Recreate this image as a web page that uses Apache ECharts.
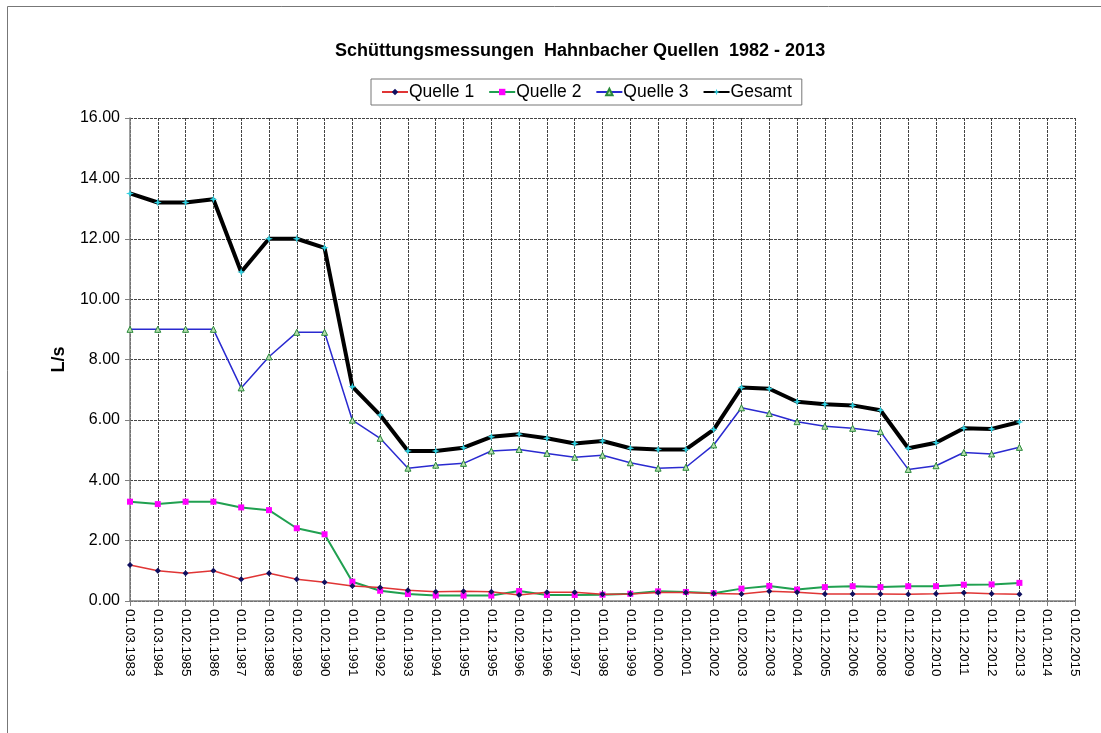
<!DOCTYPE html>
<html>
<head>
<meta charset="utf-8">
<title>Schüttungsmessungen Hahnbacher Quellen</title>
<script src="https://cdn.jsdelivr.net/npm/echarts@6/dist/echarts.min.js"></script>
<style>
  html, body { margin: 0; padding: 0; background: #fff; }
  #chart { width: 1101px; height: 733px; }
</style>
</head>
<body>
<div id="chart"></div>
<script>
const dates = [
  '01.03.1983', '01.03.1984', '01.02.1985', '01.01.1986', '01.01.1987', '01.03.1988',
  '01.02.1989', '01.02.1990', '01.01.1991', '01.01.1992', '01.01.1993', '01.01.1994',
  '01.01.1995', '01.12.1995', '01.02.1996', '01.12.1996', '01.01.1997', '01.01.1998',
  '01.01.1999', '01.01.2000', '01.01.2001', '01.01.2002', '01.02.2003', '01.12.2003',
  '01.12.2004', '01.12.2005', '01.12.2006', '01.12.2008', '01.12.2009', '01.12.2010',
  '01.12.2011', '01.12.2012', '01.12.2013', '01.01.2014', '01.02.2015'
]

const quelle1 = [
  1.19, 1.00, 0.92, 1.00, 0.72, 0.92, 0.72, 0.62, 0.50, 0.45, 0.36, 0.31,
  0.32, 0.31, 0.20, 0.29, 0.29, 0.22, 0.23, 0.28, 0.28, 0.25, 0.23, 0.32,
  0.29, 0.23, 0.23, 0.23, 0.22, 0.24, 0.27, 0.24, 0.22, null, null
]

const quelle2 = [
  3.29, 3.21, 3.29, 3.29, 3.10, 3.01, 2.41, 2.21, 0.64, 0.34, 0.23, 0.18,
  0.18, 0.18, 0.33, 0.20, 0.20, 0.21, 0.24, 0.32, 0.30, 0.26, 0.41, 0.50,
  0.38, 0.46, 0.49, 0.46, 0.49, 0.49, 0.54, 0.55, 0.60, null, null
]

const quelle3 = [
  9.00, 9.00, 9.00, 9.00, 7.06, 8.09, 8.90, 8.90, 5.99, 5.39, 4.40, 4.50,
  4.56, 4.97, 5.02, 4.89, 4.76, 4.83, 4.58, 4.40, 4.43, 5.17, 6.40, 6.21,
  5.94, 5.79, 5.72, 5.61, 4.36, 4.48, 4.92, 4.87, 5.09, null, null
]

const gesamt = [
  13.50, 13.20, 13.20, 13.31, 10.90, 12.00, 12.00, 11.70, 7.10, 6.16, 4.97, 4.97,
  5.08, 5.44, 5.52, 5.39, 5.22, 5.30, 5.06, 5.02, 5.02, 5.68, 7.07, 7.03,
  6.60, 6.52, 6.48, 6.32, 5.06, 5.24, 5.72, 5.70, 5.93, null, null
]

const font = '"Liberation Sans", Arial, sans-serif'
const starPath = 'path://M0,-10L2.5,-2.5L10,0L2.5,2.5L0,10L-2.5,2.5L-10,0L-2.5,-2.5Z'

const chart = echarts.init(document.getElementById('chart'))

const option = {
  backgroundColor: '#fff',
  animation: false,
  graphic: [
    {
      type: 'rect',
      shape: { x: 7.5, y: 6.5, width: 1110, height: 760 },
      style: { fill: 'none', stroke: '#777', lineWidth: 1 },
      silent: true
    }
  ],
  title: {
    text: 'Schüttungsmessungen  Hahnbacher Quellen  1982 - 2013',
    left: 330,
    top: 37,
    textStyle: { fontFamily: font, fontSize: 18, fontWeight: 'bold', color: '#000' }
  },
  legend: {
    top: 79,
    left: 371,
    borderColor: '#777',
    borderWidth: 1,
    padding: [4, 10, 4, 10],
    itemGap: 14,
    itemWidth: 26,
    itemHeight: 8,
    textStyle: { fontFamily: font, fontSize: 17.5, color: '#000', padding: [0, 0, 0, -4] },
    data: ['Quelle 1', 'Quelle 2', 'Quelle 3', 'Gesamt']
  },
  grid: {
    left: 130,
    right: 26,
    top: 118,
    bottom: 132
  },
  xAxis: {
    type: 'category',
    data: dates,
    boundaryGap: false,
    axisLine: { lineStyle: { color: '#808080', width: 1.5 } },
    axisTick: { show: true, length: 5, lineStyle: { color: '#808080' } },
    axisLabel: {
      interval: 0,
      rotate: -90,
      margin: 8,
      fontFamily: font,
      fontSize: 13.5,
      color: '#000'
    },
    splitLine: {
      show: true,
      interval: 0,
      lineStyle: { color: '#444', type: [3, 1], width: 1 }
    }
  },
  yAxis: {
    type: 'value',
    min: 0,
    max: 16,
    interval: 2,
    name: 'L/s',
    nameLocation: 'middle',
    nameGap: 62,
    nameRotate: 90,
    nameTextStyle: { fontFamily: font, fontSize: 18, fontWeight: 'bold', color: '#000' },
    axisLine: { show: true, lineStyle: { color: '#808080', width: 1.5 } },
    axisTick: { show: true, length: 5, inside: false, lineStyle: { color: '#808080' } },
    axisLabel: {
      formatter: v => v.toFixed(2),
      fontFamily: font,
      fontSize: 16,
      color: '#000',
      margin: 10
    },
    splitLine: {
      show: true,
      lineStyle: { color: '#444', type: [3, 1], width: 1 }
    }
  },
  series: [
    {
      name: 'Quelle 1',
      type: 'line',
      data: quelle1,
      symbol: 'diamond',
      symbolSize: 6,
      z: 4,
      itemStyle: { color: '#101060' },
      lineStyle: { color: '#e03535', width: 1.5 }
    },
    {
      name: 'Quelle 2',
      type: 'line',
      data: quelle2,
      symbol: 'rect',
      symbolSize: 6,
      z: 3,
      itemStyle: { color: '#ff00ff' },
      lineStyle: { color: '#20a050', width: 2 }
    },
    {
      name: 'Quelle 3',
      type: 'line',
      data: quelle3,
      symbol: 'triangle',
      symbolSize: 6,
      z: 3,
      itemStyle: { color: '#b8e0b0', borderColor: '#2a8a3a', borderWidth: 1 },
      lineStyle: { color: '#2a2ad0', width: 1.5 }
    },
    {
      name: 'Gesamt',
      type: 'line',
      data: gesamt,
      symbol: starPath,
      symbolSize: 8,
      z: 5,
      itemStyle: { color: '#30d0e0' },
      lineStyle: { color: '#000', width: 4 }
    }
  ]
}

chart.setOption(option)
</script>
</body>
</html>
